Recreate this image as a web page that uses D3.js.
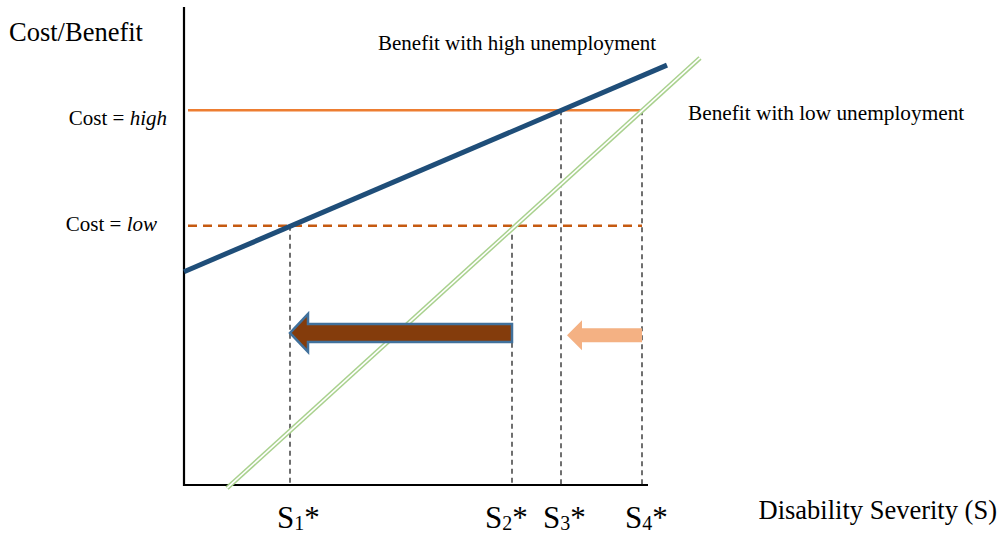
<!DOCTYPE html>
<html>
<head>
<meta charset="utf-8">
<script src="https://cdn.jsdelivr.net/npm/d3@7"></script>
<style>
  html, body { margin: 0; padding: 0; background: #fff; }
  svg { display: block; }
  text { font-family: "Liberation Serif", "Times New Roman", serif; fill: #000; }
</style>
</head>
<body>
<svg id="chart" width="1002" height="538"></svg>
<script>
// ---- data (abstract units, x: severity 0..100, y: cost/benefit 0..100) ----
const thresholdNames = ["1", "2", "3", "4"];
const thresholdX = [21.2, 65.6, 75.4, 91.6];
const costLevels = ["high", "low"];
const costValues = [83.3, 57.6];
const costLineX = [0.8, 91.6];
const benefitHighX = [0, 96.6];
const benefitHighY = [47.4, 93.3];
const benefitLowX = [8.6, 103.2];
const benefitLowY = [-0.7, 94.9];
const shiftBigX = [65.6, 21.2];
const shiftBigY = 33.8;
const shiftSmallX = [91.6, 76.6];
const shiftSmallY = 33.3;

const svg = d3.select("#chart");
const x = d3.scaleLinear().domain([0, 100]).range([184, 684]);
const y = d3.scaleLinear().domain([0, 100]).range([485, 35]);
const line = d3.line().x(d => x(d[0])).y(d => y(d[1]));

// axes (plain lines, no ticks)
svg.append("line").attr("x1", x(0)).attr("x2", x(0)).attr("y1", 7).attr("y2", y(0) + 1)
  .attr("stroke", "#000").attr("stroke-width", 2.2);
svg.append("line").attr("x1", x(0) - 1).attr("x2", x(92.8)).attr("y1", y(0)).attr("y2", y(0))
  .attr("stroke", "#000").attr("stroke-width", 2.2);

// vertical dashed lines at thresholds
const thresholdTop = [costValues[1], costValues[1], costValues[0], costValues[0]];
thresholdX.forEach((tx, i) => {
  svg.append("line")
    .attr("x1", x(tx)).attr("x2", x(tx))
    .attr("y1", y(thresholdTop[i])).attr("y2", y(0))
    .attr("stroke", "#333").attr("stroke-width", 1.4).attr("stroke-dasharray", "5,4");
});

// cost lines
svg.append("path").attr("d", line([[costLineX[0], costValues[0]], [costLineX[1], costValues[0]]]))
  .attr("stroke", "#ED7D31").attr("stroke-width", 2.5).attr("fill", "none");
svg.append("path").attr("d", line([[costLineX[0], costValues[1]], [costLineX[1], costValues[1]]]))
  .attr("stroke", "#C55A11").attr("stroke-width", 2.5).attr("fill", "none")
  .attr("stroke-dasharray", "9,6");

// benefit with low unemployment (double green line)
const lowPts = [[benefitLowX[0], benefitLowY[0]], [benefitLowX[1], benefitLowY[1]]];
svg.append("path").attr("d", line(lowPts)).attr("stroke", "#A9D18E").attr("stroke-width", 4.6).attr("fill", "none");
svg.append("path").attr("d", line(lowPts)).attr("stroke", "#fff").attr("stroke-width", 1.6).attr("fill", "none");

// benefit with high unemployment (thick blue)
svg.append("path").attr("d", line([[benefitHighX[0], benefitHighY[0]], [benefitHighX[1], benefitHighY[1]]]))
  .attr("stroke", "#1F4E79").attr("stroke-width", 5).attr("fill", "none");

// arrows
function arrowPath(xStart, xTip, yc, bodyHalf, headHalf, headLen) {
  const p = d3.path();
  const xb = xTip + headLen;
  p.moveTo(xStart, yc - bodyHalf);
  p.lineTo(xb, yc - bodyHalf);
  p.lineTo(xb, yc - headHalf);
  p.lineTo(xTip, yc);
  p.lineTo(xb, yc + headHalf);
  p.lineTo(xb, yc + bodyHalf);
  p.lineTo(xStart, yc + bodyHalf);
  p.closePath();
  return p.toString();
}
svg.append("path")
  .attr("d", arrowPath(x(shiftBigX[0]), x(shiftBigX[1]), y(shiftBigY), 9, 19, 18))
  .attr("fill", "#843C0C").attr("stroke", "#41719C").attr("stroke-width", 2.5)
  .attr("stroke-linejoin", "miter");
svg.append("path")
  .attr("d", arrowPath(x(shiftSmallX[0]), x(shiftSmallX[1]), y(shiftSmallY), 7, 15, 15))
  .attr("fill", "#F4B183");

// texts
svg.append("text").attr("x", 9).attr("y", 41).attr("font-size", 26.5).text("Cost/Benefit");
svg.append("text").attr("x", 378).attr("y", 50).attr("font-size", 21).text("Benefit with high unemployment");
svg.append("text").attr("x", 688).attr("y", 120).attr("font-size", 21.3).text("Benefit with low unemployment");
svg.append("text").attr("x", 997).attr("y", 519).attr("font-size", 26.5).attr("text-anchor", "end")
  .text("Disability Severity (S)");

const costLabelRight = [167, 157];
const costLabelBase = [125, 231];
costLevels.forEach((lvl, i) => {
  const t = svg.append("text").attr("x", costLabelRight[i]).attr("y", costLabelBase[i])
    .attr("font-size", 21).attr("text-anchor", "end");
  t.append("tspan").text("Cost = ");
  t.append("tspan").attr("font-style", "italic").text(lvl);
});

const sLabelLeft = [277, 485, 543, 625];
thresholdNames.forEach((n, i) => {
  const t = svg.append("text").attr("x", sLabelLeft[i]).attr("y", 528).attr("font-size", 31);
  t.append("tspan").text("S");
  t.append("tspan").attr("font-size", 20).attr("dy", 2).text(n);
  t.append("tspan").attr("dy", -2).text("*");
});
</script>
</body>
</html>
